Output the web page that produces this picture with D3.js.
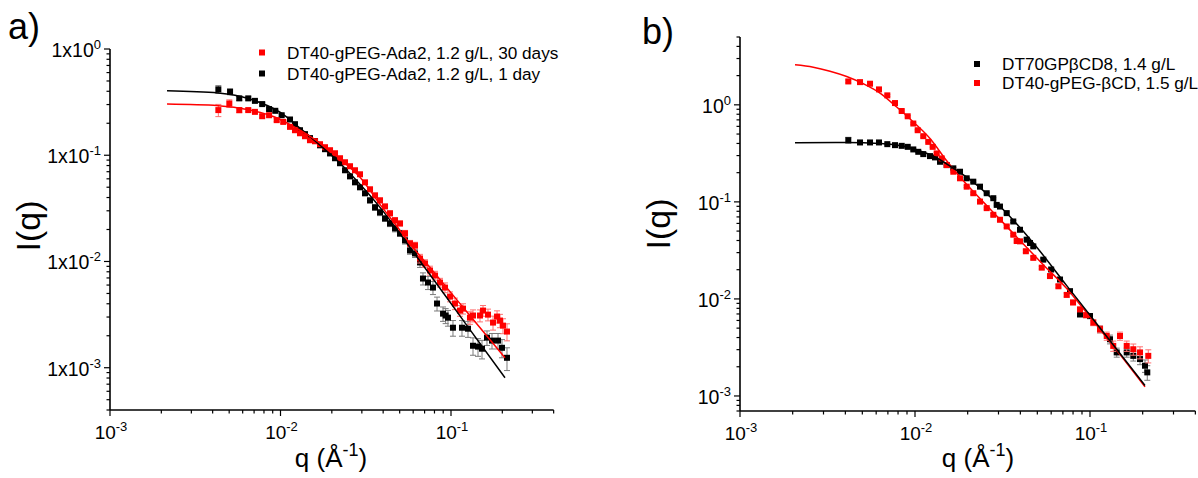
<!DOCTYPE html>
<html><head><meta charset="utf-8">
<script src="https://cdn.jsdelivr.net/npm/d3@7/dist/d3.min.js"></script>
<style>body{margin:0;background:#fff}svg{display:block}text{font-family:"Liberation Sans",Arial,sans-serif;fill:#000}</style>
</head><body><svg id="c" width="1198" height="478"></svg>
<script>
// ---------- Panel a) data: [q, I, err] ----------
const leftDay1 = [[0.00432,0.417,0.035],[0.00506,0.396,0.025],[0.00573,0.343,0.015],[0.00647,0.343,0.012],[0.00708,0.325,0.01],[0.00781,0.303,0.01],[0.00857,0.272,0.008],[0.00932,0.262,0.008],[0.01016,0.238,0.007],[0.01137,0.217,0.006],[0.01216,0.196,0.006],[0.01301,0.172,0.005],[0.01392,0.158,0.005],[0.01489,0.145,0.004],[0.01594,0.136,0.004],[0.01705,0.124,0.004],[0.01824,0.114,0.004],[0.01952,0.104,0.003],[0.02088,0.0937,0.003],[0.02234,0.0841,0.003],[0.0239,0.0722,0.003],[0.02557,0.0633,0.003],[0.02735,0.0556,0.002],[0.02926,0.0499,0.002],[0.03131,0.0438,0.002],[0.0335,0.0376,0.002],[0.03584,0.0323,0.002],[0.03834,0.029,0.002],[0.04102,0.0254,0.0015],[0.04388,0.0228,0.0015],[0.04695,0.0205,0.0015],[0.05023,0.0184,0.0012],[0.05374,0.0158,0.0012],[0.05749,0.0127,0.001],[0.0615,0.0119,0.001],[0.0658,0.00979,0.001],[0.0685,0.00691,0.0009],[0.0733,0.00634,0.0009],[0.0784,0.00568,0.0008],[0.0828,0.00402,0.0006],[0.0898,0.00323,0.0005],[0.093,0.0031,0.0005],[0.096,0.00296,0.0005],[0.1027,0.00238,0.0004],[0.116,0.00238,0.0004],[0.1258,0.00233,0.0004],[0.1346,0.00161,0.0003],[0.144,0.00158,0.0003],[0.152,0.00151,0.0003],[0.1626,0.00192,0.0003],[0.174,0.0018,0.0003],[0.1887,0.0018,0.0003],[0.1991,0.00154,0.0003],[0.213,0.00124,0.0003]];
const leftDay30 = [[0.00432,0.266,0.035],[0.00501,0.307,0.025],[0.00573,0.266,0.015],[0.00647,0.266,0.01],[0.00708,0.256,0.008],[0.00781,0.233,0.008],[0.00857,0.238,0.008],[0.0095,0.214,0.007],[0.01038,0.206,0.006],[0.01137,0.185,0.006],[0.01216,0.172,0.005],[0.01301,0.161,0.005],[0.01392,0.151,0.005],[0.01489,0.1385,0.004],[0.01594,0.1355,0.004],[0.01705,0.127,0.004],[0.01824,0.119,0.004],[0.01952,0.1115,0.004],[0.02088,0.1044,0.003],[0.02234,0.0937,0.003],[0.0239,0.0859,0.003],[0.02557,0.0788,0.003],[0.02735,0.0722,0.003],[0.02926,0.0662,0.002],[0.03131,0.0556,0.002],[0.0335,0.0478,0.002],[0.03584,0.0419,0.002],[0.03834,0.0376,0.002],[0.04102,0.033,0.0015],[0.04388,0.0284,0.0015],[0.04695,0.0244,0.0015],[0.05023,0.0228,0.0012],[0.05374,0.0184,0.0012],[0.05749,0.01478,0.001],[0.0615,0.01416,0.001],[0.0658,0.01067,0.001],[0.0704,0.00958,0.0008],[0.0753,0.00823,0.0008],[0.0806,0.00738,0.0007],[0.0862,0.00634,0.0006],[0.0922,0.00568,0.0006],[0.0987,0.00467,0.0005],[0.1055,0.00402,0.0005],[0.1129,0.00345,0.0004],[0.1176,0.0036,0.0004],[0.1292,0.00296,0.0004],[0.1346,0.0031,0.0004],[0.1479,0.0031,0.0004],[0.1541,0.00345,0.0004],[0.1648,0.00316,0.0004],[0.1764,0.00266,0.0004],[0.1862,0.00303,0.0004],[0.1938,0.00278,0.0004],[0.2018,0.00249,0.0004],[0.213,0.00219,0.0004]];
const leftDay1Fit = [[0.00216,0.404],[0.00432,0.385],[0.00662,0.338],[0.00993,0.254],[0.01301,0.18],[0.01705,0.1243],[0.02234,0.0841],[0.02926,0.0533],[0.03834,0.0323],[0.05749,0.01355],[0.0898,0.0051],[0.1241,0.00249],[0.2073,0.000805]];
const leftDay30Fit = [[0.00216,0.303],[0.00432,0.293],[0.00662,0.266],[0.00932,0.228],[0.01301,0.172],[0.01705,0.13],[0.02234,0.0917],[0.02926,0.062],[0.03834,0.0345],[0.05023,0.0196],[0.05749,0.0147],[0.0753,0.00876],[0.1176,0.00371],[0.2073,0.00124]];
const leftLegend = ["DT40-gPEG-Ada2, 1.2 g/L, 30 days", "DT40-gPEG-Ada2, 1.2 g/L, 1 day"];
const leftYTicks = [1, 0.1, 0.01, 0.001];
const leftYTickText = ["1x10^0", "1x10^-1", "1x10^-2", "1x10^-3"];

// ---------- Panel b) data ----------
const rightDT70 = [[0.004158,0.4324,0.03],[0.004851,0.4096,0.02],[0.005533,0.4096,0.012],[0.006226,0.4096,0.01],[0.006946,0.3934,0.008],[0.007687,0.3842,0.008],[0.008395,0.3779,0.007],[0.009085,0.3691,0.007],[0.009779,0.3471,0.006],[0.01044,0.328,0.006],[0.01115,0.3106,0.005],[0.01218,0.2963,0.005],[0.01301,0.2873,0.005],[0.0139,0.259,0.004],[0.01517,0.2395,0.004],[0.01656,0.2216,0.004],[0.01808,0.2045,0.003],[0.01974,0.175,0.003],[0.02153,0.1615,0.003],[0.02352,0.1435,0.003],[0.02569,0.1228,0.002],[0.02802,0.1091,0.002],[0.0293,0.0931,0.002],[0.03059,0.0895,0.002],[0.03342,0.0766,0.002],[0.03644,0.0628,0.0015],[0.03981,0.0516,0.0012],[0.04347,0.0408,0.001],[0.0454,0.0377,0.001],[0.04742,0.0348,0.001],[0.05408,0.0254,0.0008],[0.06,0.0201,0.0007],[0.0674,0.01585,0.0006],[0.07687,0.01202,0.0005],[0.08769,0.00693,0.0004],[0.1,0.00666,0.0004],[0.1141,0.00487,0.0004],[0.1301,0.00384,0.0004],[0.1421,0.00281,0.0003],[0.1621,0.00281,0.0003],[0.1768,0.00259,0.0003],[0.1931,0.0024,0.0003],[0.2062,0.00205,0.0003],[0.2125,0.00175,0.0003]];
const rightDT40 = [[0.004158,1.742,0.06],[0.004851,1.714,0.05],[0.005533,1.65,0.04],[0.006226,1.442,0.03],[0.006946,1.252,0.03],[0.007687,1.043,0.02],[0.008395,0.8637,0.02],[0.009085,0.7622,0.015],[0.009779,0.6417,0.012],[0.01036,0.5476,0.01],[0.01115,0.4753,0.01],[0.01191,0.4154,0.008],[0.01262,0.3691,0.007],[0.0133,0.3158,0.006],[0.01421,0.2806,0.005],[0.01517,0.2395,0.005],[0.01656,0.2045,0.004],[0.01808,0.175,0.004],[0.01974,0.1435,0.003],[0.02153,0.1228,0.003],[0.02352,0.1007,0.002],[0.02569,0.0862,0.002],[0.02802,0.0736,0.002],[0.03059,0.0654,0.0015],[0.03342,0.0558,0.0015],[0.03644,0.0459,0.0012],[0.03812,0.0395,0.001],[0.03981,0.0392,0.001],[0.043,0.031,0.001],[0.04742,0.0265,0.0008],[0.053,0.021,0.0007],[0.05906,0.0172,0.0006],[0.066,0.0135,0.0005],[0.0736,0.01100,0.0005],[0.08,0.0092,0.0005],[0.08769,0.0078,0.0004],[0.095,0.0068,0.0004],[0.1044,0.0057,0.0004],[0.1141,0.00487,0.0004],[0.1246,0.00415,0.0004],[0.1358,0.00328,0.0004],[0.1484,0.00415,0.0004],[0.1621,0.00328,0.0004],[0.1768,0.00303,0.0004],[0.1931,0.00281,0.0004],[0.2153,0.00259,0.0004]];
const rightDT70Fit = [[0.002062,0.406],[0.004071,0.41],[0.00631,0.4],[0.0084,0.378],[0.01036,0.34],[0.01301,0.29],[0.01656,0.222],[0.02153,0.16],[0.03059,0.09],[0.04742,0.0377],[0.0736,0.01372],[0.1,0.0068],[0.1421,0.00303],[0.2062,0.00128]];
const rightDT40Fit = [[0.002062,2.584],[0.002623,2.442],[0.003268,2.222],[0.004071,1.96],[0.005067,1.65],[0.00631,1.321],[0.00786,0.949],[0.009779,0.666],[0.01218,0.45],[0.01517,0.265],[0.01808,0.18],[0.02352,0.108],[0.03059,0.066],[0.03981,0.04],[0.05408,0.0225],[0.0736,0.0128],[0.1,0.0065],[0.1421,0.00295],[0.2062,0.00124]];
const rightLegend = ["DT70GP\u03B2CD8, 1.4 g/L", "DT40-gPEG-\u03B2CD, 1.5 g/L"];
const rightYTicks = [1, 0.1, 0.01, 0.001];
const rightYTickText = ["10^0", "10^-1", "10^-2", "10^-3"];

const xTicks = [0.001, 0.01, 0.1];
const xTickText = ["10^-3", "10^-2", "10^-1"];

const RED = "#ff0000", BLACK = "#000000";
const svg = d3.select("#c");

function supText(sel, str, supSize){
  const parts = str.split("^");
  sel.append("tspan").text(parts[0]);
  if (parts[1] !== undefined) sel.append("tspan").attr("dy", -8).attr("font-size", supSize).text(parts[1]);
}

function minorTicks(domain){
  const out = [];
  const e0 = Math.floor(Math.log10(domain[0])), e1 = Math.ceil(Math.log10(domain[1]));
  for (let e = e0; e <= e1; e++) for (let m = 1; m <= 9; m++) {
    const v = m * Math.pow(10, e);
    if (v >= domain[0]*0.999 && v <= domain[1]*1.001) out.push({v, major: m === 1});
  }
  return out;
}

function panel(p){
  const x = d3.scaleLog().domain(p.xDomain).range(p.xRange);
  const y = d3.scaleLog().domain(p.yDomain).range(p.yRange);
  const g = svg.append("g");
  const x0 = p.xRange[0], y0 = p.yRange[0];
  g.append("line").attr("x1", x0).attr("x2", p.xRange[1]).attr("y1", y0).attr("y2", y0).attr("stroke", "#000").attr("stroke-width", 1.6);
  g.append("line").attr("x1", x0).attr("x2", x0).attr("y1", y0).attr("y2", p.yRange[1]).attr("stroke", "#000").attr("stroke-width", 1.6);
  minorTicks(p.xDomain).forEach(t => {
    g.append("line").attr("x1", x(t.v)).attr("x2", x(t.v)).attr("y1", y0).attr("y2", y0 + (t.major ? 6 : 3.5)).attr("stroke", "#000").attr("stroke-width", 1.2);
  });
  minorTicks(p.yDomain).forEach(t => {
    g.append("line").attr("x1", x0).attr("x2", x0 - (t.major ? 6 : 3.5)).attr("y1", y(t.v)).attr("y2", y(t.v)).attr("stroke", "#000").attr("stroke-width", 1.2);
  });
  xTicks.forEach((v, i) => {
    const t = g.append("text").attr("x", x(v) + 1).attr("y", y0 + 29).attr("text-anchor", "middle").attr("font-size", 19);
    supText(t, xTickText[i], 13);
  });
  p.yTicks.forEach((v, i) => {
    const t = g.append("text").attr("x", x0 - 9).attr("y", y(v) + 8).attr("text-anchor", "end").attr("font-size", 19.5);
    supText(t, p.yTickText[i], 13);
  });
  g.append("text").attr("transform", `translate(${p.yTitleX},${p.yTitleY}) rotate(-90)`).attr("text-anchor", "middle").attr("font-size", 34).text("I(q)");
  const xt = g.append("text").attr("x", p.xTitleX).attr("y", 467).attr("text-anchor", "middle").attr("font-size", 26);
  xt.append("tspan").text("q (\u00C5");
  xt.append("tspan").attr("dy", -11).attr("font-size", 18).text("-1");
  xt.append("tspan").attr("dy", 11).text(")");
  g.append("text").attr("x", p.letterX).attr("y", p.letterY).attr("font-size", 36).text(p.letter);
  const line = d3.line().x(d => x(d[0])).y(d => y(d[1])).curve(d3.curveMonotoneX);
  p.series.forEach(s => {
    const sg = g.append("g");
    s.data.forEach(d => {
      const lo = Math.max(d[1] - d[2], p.yDomain[0]), hi = d[1] + d[2];
      const cx = x(d[0]);
      sg.append("line").attr("x1", cx).attr("x2", cx).attr("y1", y(lo)).attr("y2", y(hi)).attr("stroke", s.errColor).attr("stroke-width", 1);
      sg.append("line").attr("x1", cx - 3).attr("x2", cx + 3).attr("y1", y(lo)).attr("y2", y(lo)).attr("stroke", s.errColor).attr("stroke-width", 1);
      sg.append("line").attr("x1", cx - 3).attr("x2", cx + 3).attr("y1", y(hi)).attr("y2", y(hi)).attr("stroke", s.errColor).attr("stroke-width", 1);
    });
    sg.selectAll("rect").data(s.data).join("rect")
      .attr("x", d => x(d[0]) - 3).attr("y", d => y(d[1]) - 3).attr("width", 6).attr("height", 6).attr("fill", s.color);
  });
  p.fits.forEach(f => {
    g.append("path").datum(f.data).attr("d", line).attr("fill", "none").attr("stroke", f.color).attr("stroke-width", 1.5);
  });
  p.legend.forEach((L, i) => {
    const ly = p.legendY[i];
    g.append("rect").attr("x", p.legendX - 3).attr("y", ly - 3).attr("width", 6).attr("height", 6).attr("fill", L.color);
    g.append("text").attr("x", p.legendX + 25).attr("y", ly + 6).attr("font-size", p.legendSize).text(L.text);
  });
}

panel({
  xDomain: [1e-3, 0.4], xRange: [110, 110 + 170.5 * Math.log10(400)],
  yDomain: [4e-4, 1], yRange: [410, 49],
  yTicks: leftYTicks, yTickText: leftYTickText,
  yTitleX: 40, yTitleY: 226, xTitleX: 331,
  letter: "a)", letterX: 8, letterY: 39,
  series: [
    {data: leftDay1, color: BLACK, errColor: "#7a7a7a"},
    {data: leftDay30, color: RED, errColor: "#ff7070"}
  ],
  fits: [{data: leftDay1Fit, color: BLACK}, {data: leftDay30Fit, color: RED}],
  legend: [{text: leftLegend[0], color: RED}, {text: leftLegend[1], color: BLACK}],
  legendX: 262, legendY: [52.5, 73.5], legendSize: 17.2
});

panel({
  xDomain: [1e-3, 0.4], xRange: [740, 740 + 175 * Math.log10(400)],
  yDomain: [7e-4, 5], yRange: [411, 37],
  yTicks: rightYTicks, yTickText: rightYTickText,
  yTitleX: 670, yTitleY: 224, xTitleX: 978,
  letter: "b)", letterX: 642, letterY: 44,
  series: [
    {data: rightDT70, color: BLACK, errColor: "#7a7a7a"},
    {data: rightDT40, color: RED, errColor: "#ff7070"}
  ],
  fits: [{data: rightDT40Fit, color: RED}, {data: rightDT70Fit, color: BLACK}],
  legend: [{text: rightLegend[0], color: BLACK}, {text: rightLegend[1], color: RED}],
  legendX: 977, legendY: [64, 83], legendSize: 17.2
});
</script></body></html>
